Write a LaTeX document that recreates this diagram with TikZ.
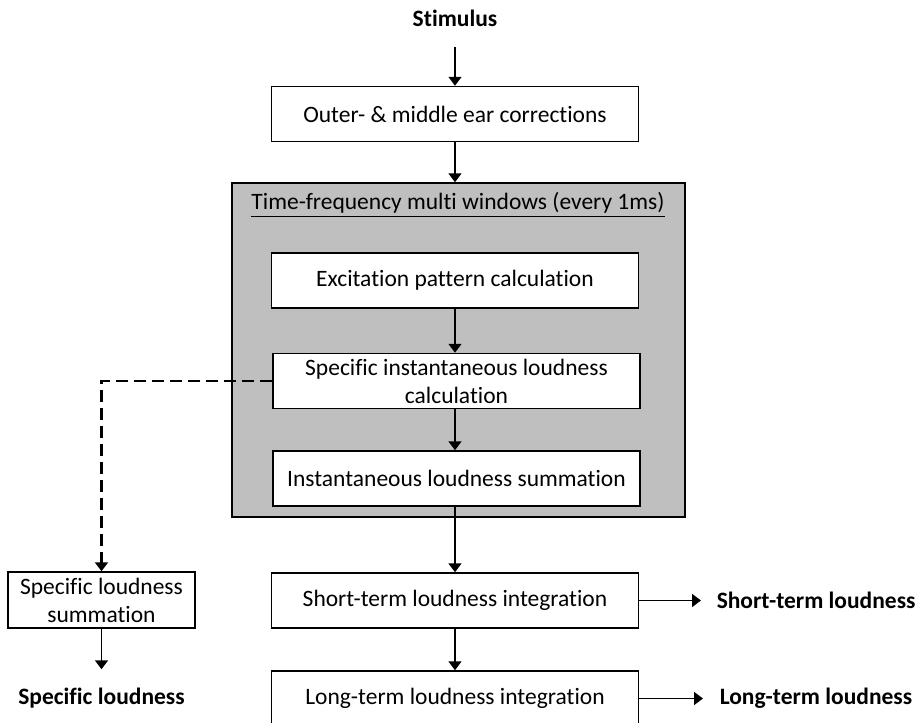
\documentclass[tikz,border=0pt]{standalone}
\usepackage{fontspec}
\setmainfont{Carlito}[Ligatures=NoCommon]
\usetikzlibrary{arrows.meta}
\definecolor{wingray}{RGB}{191,191,191}

\begin{document}
\begin{tikzpicture}[x=0.5pt,y=-0.5pt,->,>={Triangle[width=6.5pt,length=4.5pt]},line width=0.75pt,font=\fontsize{11.75}{14}\selectfont,
  block/.style={draw,fill=white,align=center,minimum width=183.5pt,minimum height=27.5pt,inner sep=2pt},
  side block/.style={block,minimum width=93.5pt,minimum height=28pt},
  out text/.style={font=\fontsize{11.75}{14}\selectfont\bfseries,inner sep=0pt,minimum height=28pt}]
  \useasboundingbox (0,0) rectangle (923,723);

  \node[draw,fill=wingray,minimum width=226.5pt,minimum height=167pt] (win) at (458.5,350) {};
  \node[inner sep=0pt] (wintitle) at (458,205) {\underline{Time-frequency multi windows (every 1ms)}};

  \node[out text] (stim) at (455,18) {Stimulus};
  \node[block] (outer) at (455,114) {Outer- \& middle ear corrections};
  \node[block] (excite) at (455,280.5) {Excitation pattern calculation};
  \node[block] (specinst) at (456.5,381) {Specific instantaneous loudness\\calculation};
  \node[block] (instsum) at (456.5,478.5) {Instantaneous loudness summation};
  \node[block] (shortint) at (455,600.5) {Short-term loudness integration};
  \node[block] (longint) at (455,698.5) {Long-term loudness integration};
  \node[side block] (specsum) at (101.5,600) {Specific loudness\\summation};

  \node[out text] (specout) at (101.5,698) {Specific loudness};
  \node[out text,anchor=west] (shortout) at (716,600.5) {Short-term loudness};
  \node[out text,anchor=west] (longout) at (719,698.5) {Long-term loudness};

  \draw (stim) -- (outer);
  \draw (outer) -- (outer |- win.north);
  \draw (excite) -- (excite |- specinst.north);
  \draw (excite |- specinst.south) -- (excite |- instsum.north);
  \draw (excite |- instsum.south) -- (shortint);
  \draw (shortint) -- (longint);
  \draw[shorten >=7.5pt] (shortint) -- (shortout);
  \draw[shorten >=8pt] (longint) -- (longout);
  \draw[dash pattern=on 6pt off 3pt,line width=1.2pt] (specinst.west) -| (specsum.north);
  \draw (specsum) -- (specout);
\end{tikzpicture}
\end{document}
